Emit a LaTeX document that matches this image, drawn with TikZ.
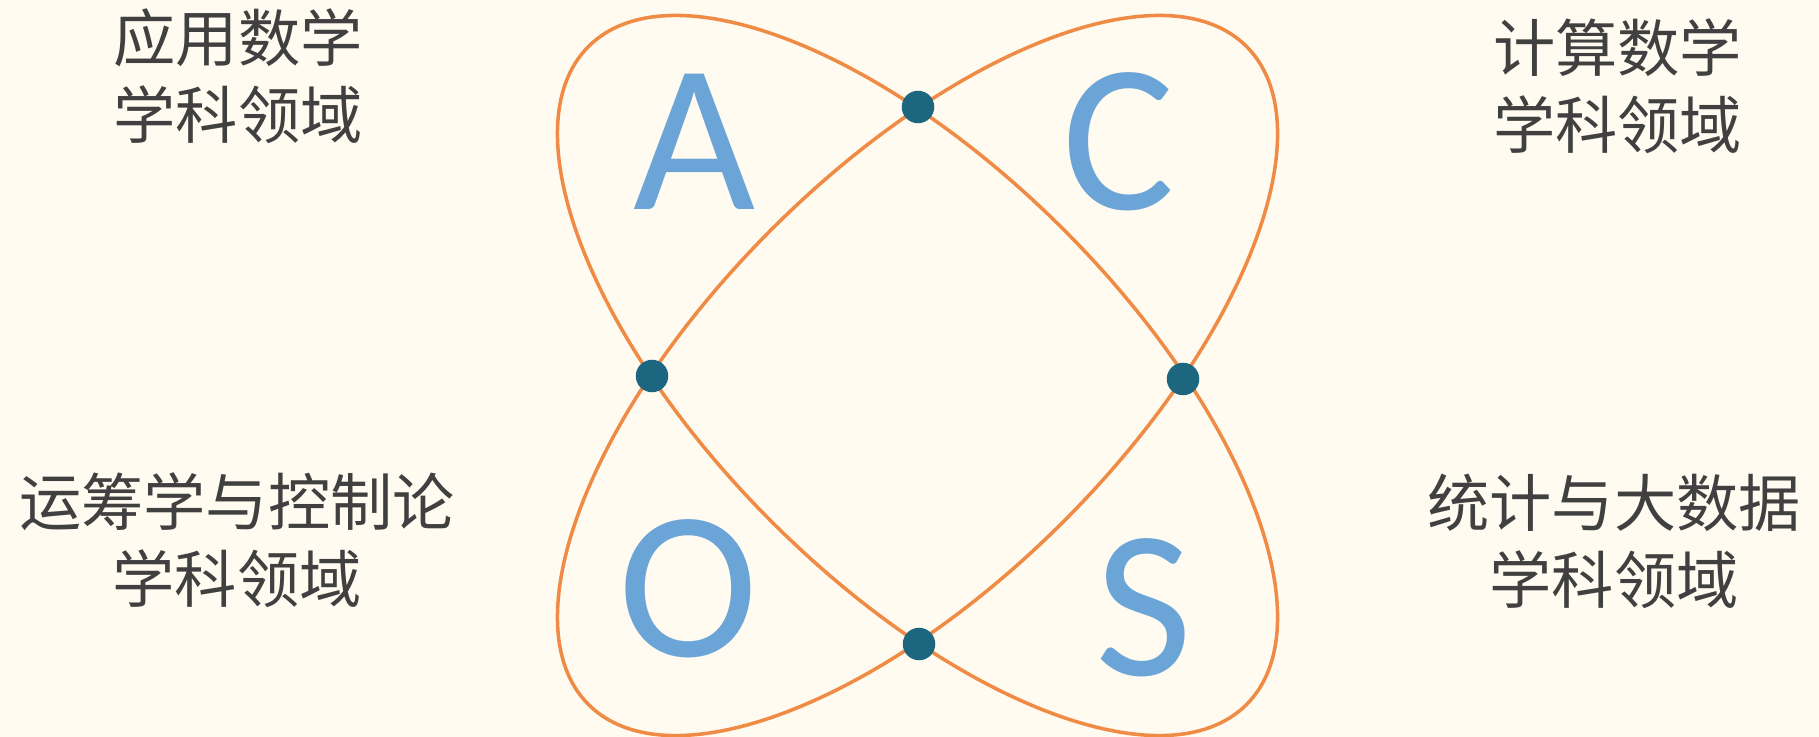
\documentclass[tikz,border=0pt]{standalone}
\usepackage{fontspec}
\newfontfamily\cjk{Noto Sans CJK SC}
\newfontfamily\latf{Carlito}
\definecolor{bgc}{HTML}{FFFBF0}
\definecolor{orbit}{HTML}{EF8B45}
\definecolor{dotc}{HTML}{1C6680}
\definecolor{letc}{HTML}{6BA5D7}
\definecolor{txtc}{HTML}{404040}
\tikzset{
  orbitline/.style={draw=orbit, line width=1pt},
  junction/.style={circle, fill=dotc, minimum size=0.325cm, inner sep=0pt},
  bigletter/.style={text=letc, inner sep=0pt, font=\latf\fontsize{60pt}{60pt}\selectfont},
  field/.style={text=txtc, inner sep=0pt, align=center, font=\cjk\fontsize{17.7pt}{21.9pt}\selectfont}
}
\begin{document}
\begin{tikzpicture}[x=0.01cm, y=-0.01cm]
\useasboundingbox (0,0) rectangle (1819,737);
\fill[bgc] (0,0) rectangle (1819,737);
\coordinate (ctr) at (917.5,375.5);
\draw[orbitline, rotate around={45:(ctr)}] (ctr) ellipse [x radius=465.3, y radius=206.5];
\draw[orbitline, rotate around={-45:(ctr)}] (ctr) ellipse [x radius=465.3, y radius=206.5];
\node[junction] (dtop) at (918,107) {};
\node[junction] (dleft) at (652,376) {};
\node[junction] (dright) at (1183,379) {};
\node[junction] (dbottom) at (919,644) {};
\node[bigletter] (la) at (695,141.5) {A};
\node[bigletter] (lc) at (1119,141.5) {C};
\node[bigletter] (lo) at (688,588.5) {O};
\node[bigletter] (ls) at (1144,607.5) {S};
\node[field] (tl) at (238,76.5) {应用数学\\学科领域};
\node[field] (tr) at (1617.5,86.5) {计算数学\\学科领域};
\node[field] (bl) at (237,540.5) {运筹学与控制论\\学科领域};
\node[field] (br) at (1614,541) {统计与大数据\\学科领域};
\end{tikzpicture}
\end{document}
